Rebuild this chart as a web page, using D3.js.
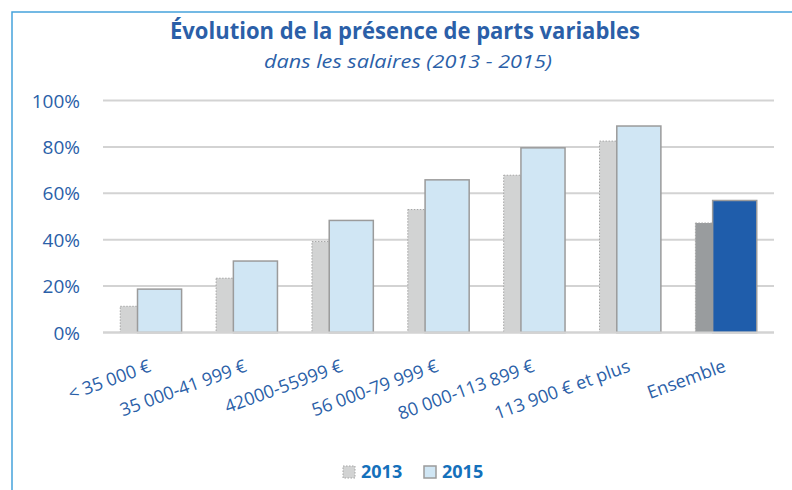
<!DOCTYPE html>
<html>
<head>
    <meta charset="utf-8">
    <title>Parts variables</title>
    <script src="https://d3js.org/d3.v7.min.js"></script>
    <style>
        body { margin: 0; background: #fff; }
        svg { display: block; font-family: "Open Sans", sans-serif; }
    </style>
</head>
<body>
    <svg id="chart"></svg>
    <script>
        const width = 792;
        const height = 490;

        // data
        const categories = ["< 35 000 €", "35 000-41 999 €", "42000-55999 €", "56 000-79 999 €",
                            "80 000-113 899 €", "113 900 € et plus", "Ensemble"];
        const values2013 = [11.3, 23.4, 39.2, 53.0, 67.8, 82.5, 47.2];
        const values2015 = [18.7, 30.8, 48.3, 65.8, 79.6, 89.0, 56.9];
        const yTicks = [0, 20, 40, 60, 80, 100];
        const legendLabels = ["2013", "2015"];

        const blueText = "#2b5fa8";

        const svg = d3.select("#chart")
            .attr("width", width)
            .attr("height", height);

        // frame (only top and left visible)
        svg.append("path")
            .attr("d", `M12,${height} L12,12 L${width},12`)
            .attr("fill", "none")
            .attr("stroke", "#45a2dc")
            .attr("stroke-width", 1.5);

        // titles
        svg.append("text")
            .attr("x", 405).attr("y", 39)
            .attr("text-anchor", "middle")
            .attr("textLength", 470)
            .attr("lengthAdjust", "spacingAndGlyphs")
            .style("font-size", "23px")
            .style("font-weight", "bold")
            .style("fill", blueText)
            .text("Évolution de la présence de parts variables");

        svg.append("text")
            .attr("x", 408).attr("y", 68)
            .attr("text-anchor", "middle")
            .attr("textLength", 288)
            .attr("lengthAdjust", "spacingAndGlyphs")
            .style("font-size", "19px")
            .style("font-style", "italic")
            .style("fill", blueText)
            .text("dans les salaires (2013 - 2015)");

        const x = d3.scaleBand()
            .domain(categories)
            .range([103, 774]);

        const y = d3.scaleLinear()
            .domain([0, 100])
            .range([332.5, 100.5]);

        // gridlines
        svg.append("g")
            .selectAll("line")
            .data(yTicks)
            .enter().append("line")
            .attr("x1", 103).attr("x2", 774)
            .attr("y1", d => y(d)).attr("y2", d => y(d))
            .attr("stroke", "#d3d3d3")
            .attr("stroke-width", 2);

        // y labels
        svg.append("g")
            .selectAll("text")
            .data(yTicks)
            .enter().append("text")
            .attr("x", 80)
            .attr("y", d => y(d) + 7)
            .attr("text-anchor", "end")
            .style("font-size", "19px")
            .style("fill", blueText)
            .text(d => d + "%");

        const bw = x.bandwidth();
        const barW = bw * 0.46;
        const shift = bw * 0.18;
        const last = categories.length - 1;

        // 2013 bars (behind)
        svg.append("g")
            .selectAll("rect")
            .data(values2013)
            .enter().append("rect")
            .attr("x", (d, i) => x(categories[i]) + bw / 2 - (barW + shift) / 2)
            .attr("y", d => y(d))
            .attr("width", barW)
            .attr("height", d => y(0) - y(d))
            .attr("fill", (d, i) => i === last ? "#999c9e" : "#d2d3d3")
            .attr("stroke", "#a5a5a5")
            .attr("stroke-width", 1)
            .attr("stroke-dasharray", "1.5,1.5");

        // 2015 bars (front)
        svg.append("g")
            .selectAll("rect")
            .data(values2015)
            .enter().append("rect")
            .attr("x", (d, i) => x(categories[i]) + bw / 2 - (barW + shift) / 2 + shift)
            .attr("y", d => y(d))
            .attr("width", barW)
            .attr("height", d => y(0) - y(d))
            .attr("fill", (d, i) => i === last ? "#1f5dab" : "#d0e6f4")
            .attr("stroke", "#9b9b9b")
            .attr("stroke-width", 1.5);

        // baseline on top
        svg.append("line")
            .attr("x1", 103).attr("x2", 774)
            .attr("y1", y(0)).attr("y2", y(0))
            .attr("stroke", "#d3d3d3")
            .attr("stroke-width", 2);

        // category labels
        svg.append("g")
            .selectAll("text")
            .data(categories)
            .enter().append("text")
            .attr("transform", d => `translate(${x(d) + bw / 2 + 1},${371}) rotate(-20)`)
            .attr("text-anchor", "end")
            .style("font-size", "18px")
            .style("fill", blueText)
            .text(d => d);

        // legend
        const legend = svg.append("g");
        const legendX = [343, 424];
        legend.selectAll("rect")
            .data(legendLabels)
            .enter().append("rect")
            .attr("x", (d, i) => legendX[i])
            .attr("y", 466)
            .attr("width", 12)
            .attr("height", 12)
            .attr("fill", (d, i) => i === 0 ? "#d2d3d3" : "#d0e6f4")
            .attr("stroke", (d, i) => i === 0 ? "#a5a5a5" : "#9b9b9b")
            .attr("stroke-width", (d, i) => i === 0 ? 1 : 1.5)
            .attr("stroke-dasharray", (d, i) => i === 0 ? "1.5,1.5" : null);

        legend.selectAll("text")
            .data(legendLabels)
            .enter().append("text")
            .attr("x", (d, i) => legendX[i] + 18)
            .attr("y", 478)
            .style("font-size", "18px")
            .style("font-weight", "bold")
            .style("fill", "#1470bb")
            .text(d => d);
    </script>
</body>
</html>
